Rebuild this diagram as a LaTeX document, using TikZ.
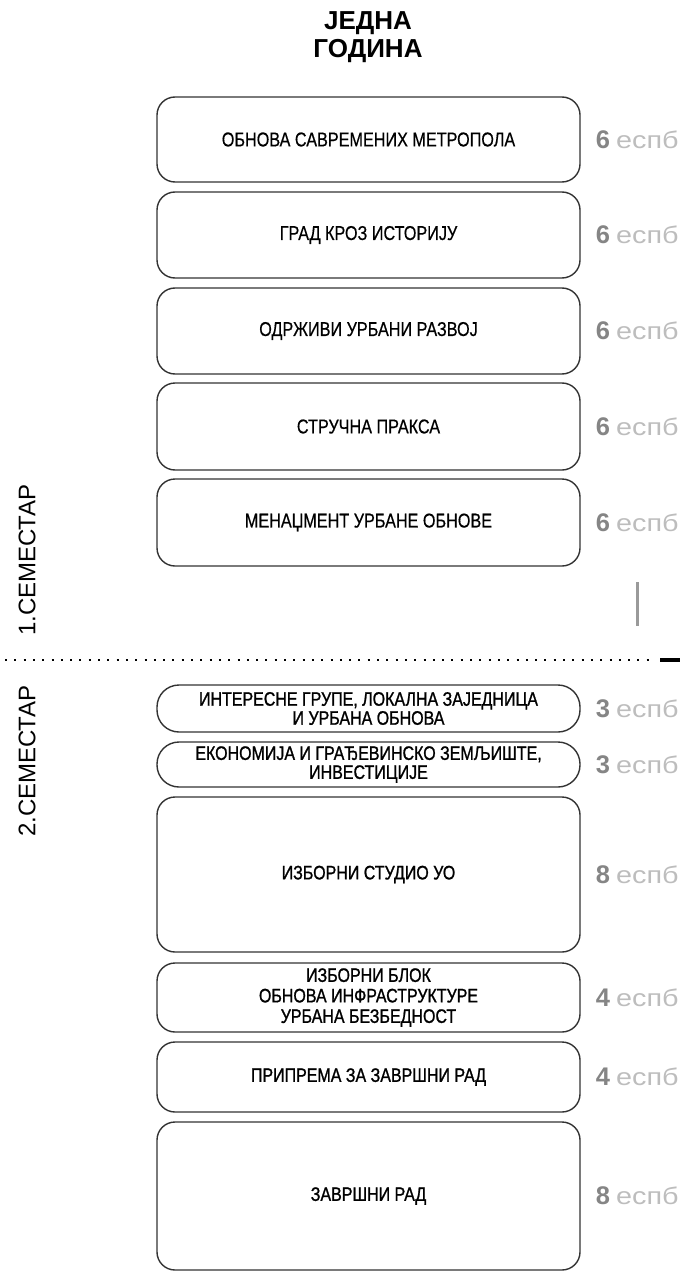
\documentclass[tikz,border=0pt]{standalone}
\usepackage{fontspec}
\setmainfont{Liberation Sans}
\newfontfamily\coursefont[FakeStretch=0.81,FakeBold=0.5]{Liberation Sans}
\newfontfamily\coursefontb[FakeStretch=0.82,FakeBold=1.1]{Liberation Sans}
\newfontfamily\unitfont[FakeStretch=1.2]{Liberation Sans}
\usetikzlibrary{positioning}

\definecolor{boxline}{HTML}{333333}
\definecolor{numgray}{HTML}{858585}
\definecolor{unitgray}{HTML}{BDBDBD}
\definecolor{bargray}{HTML}{9A9A9A}

\newcommand{\ects}[1]{\textcolor{numgray}{\textbf{#1}}\hspace{6pt}\textcolor{unitgray}{\unitfont\fontsize{24}{24}\selectfont еспб}}

\begin{document}
\begin{tikzpicture}[x=1pt, y=-1pt,
    course/.style={draw=boxline, line width=1.4pt, rounded corners=18pt,
        minimum width=423pt, inner sep=0pt, align=center,
        font=\coursefont\fontsize{20}{22}\selectfont},
    courseb/.style={course, font=\coursefontb\fontsize{19.5}{19}\selectfont},
    credit/.style={right=15pt of #1, inner sep=0pt, anchor=west,
        font=\fontsize{25.5}{25.5}\selectfont},
    semlabel/.style={rotate=90, inner sep=0pt, font=\fontsize{24}{24}\selectfont}]

    \useasboundingbox (0,0) rectangle (680,1273);

    \node [align=center, font=\bfseries\fontsize{26}{28}\selectfont] (title) at (368, 37) {ЈЕДНА\\ГОДИНА};

    % first semester
    \node [course, minimum height=85pt] (s1a) at (368.5, 139.5) {ОБНОВА САВРЕМЕНИХ МЕТРОПОЛА};
    \node [course, minimum height=86pt] (s1b) at (368.5, 235) {ГРАД КРОЗ ИСТОРИЈУ};
    \node [course, minimum height=86pt] (s1c) at (368.5, 331) {ОДРЖИВИ УРБАНИ РАЗВОЈ};
    \node [course, minimum height=87pt] (s1d) at (368.5, 426.5) {СТРУЧНА ПРАКСА};
    \node [course, minimum height=87pt] (s1e) at (368.5, 522.5) {МЕНАЏМЕНТ УРБАНЕ ОБНОВЕ};

    \node [credit=s1a] {\ects{6}};
    \node [credit=s1b] {\ects{6}};
    \node [credit=s1c] {\ects{6}};
    \node [credit=s1d] {\ects{6}};
    \node [credit=s1e] {\ects{6}};

    \fill [bargray] (636, 582) rectangle (639, 626);

    % semester split
    \draw [line width=2pt, dash pattern=on 2pt off 7.3pt] (5, 660) -- (655, 660);
    \draw [line width=3.5pt] (660, 660) -- (680, 660);

    \node [semlabel] (sem1) at (27, 560) {1.СЕМЕСТАР};
    \node [semlabel] (sem2) at (27, 761) {2.СЕМЕСТАР};

    % second semester
    \node [courseb, minimum height=47pt, rounded corners=22pt] (s2a) at (368.5, 708.5) {ИНТЕРЕСНЕ ГРУПЕ, ЛОКАЛНА ЗАЈЕДНИЦА\\И УРБАНА ОБНОВА};
    \node [courseb, minimum height=45pt, rounded corners=22pt] (s2b) at (368.5, 764.5) {ЕКОНОМИЈА И ГРАЂЕВИНСКО ЗЕМЉИШТЕ,\\ИНВЕСТИЦИЈЕ};
    \node [courseb, minimum height=155pt] (s2c) at (368.5, 874.5) {ИЗБОРНИ СТУДИО УО};
    \node [courseb, minimum height=69pt, font=\coursefontb\fontsize{19.5}{20.5}\selectfont] (s2d) at (368.5, 997.5) {ИЗБОРНИ БЛОК\\ОБНОВА ИНФРАСТРУКТУРЕ\\УРБАНА БЕЗБЕДНОСТ};
    \node [courseb, minimum height=70pt] (s2e) at (368.5, 1077) {ПРИПРЕМА ЗА ЗАВРШНИ РАД};
    \node [courseb, minimum height=148pt] (s2f) at (368.5, 1196) {ЗАВРШНИ РАД};

    \node [credit=s2a] {\ects{3}};
    \node [credit=s2b] {\ects{3}};
    \node [credit=s2c] {\ects{8}};
    \node [credit=s2d] {\ects{4}};
    \node [credit=s2e] {\ects{4}};
    \node [credit=s2f] {\ects{8}};
\end{tikzpicture}
\end{document}
